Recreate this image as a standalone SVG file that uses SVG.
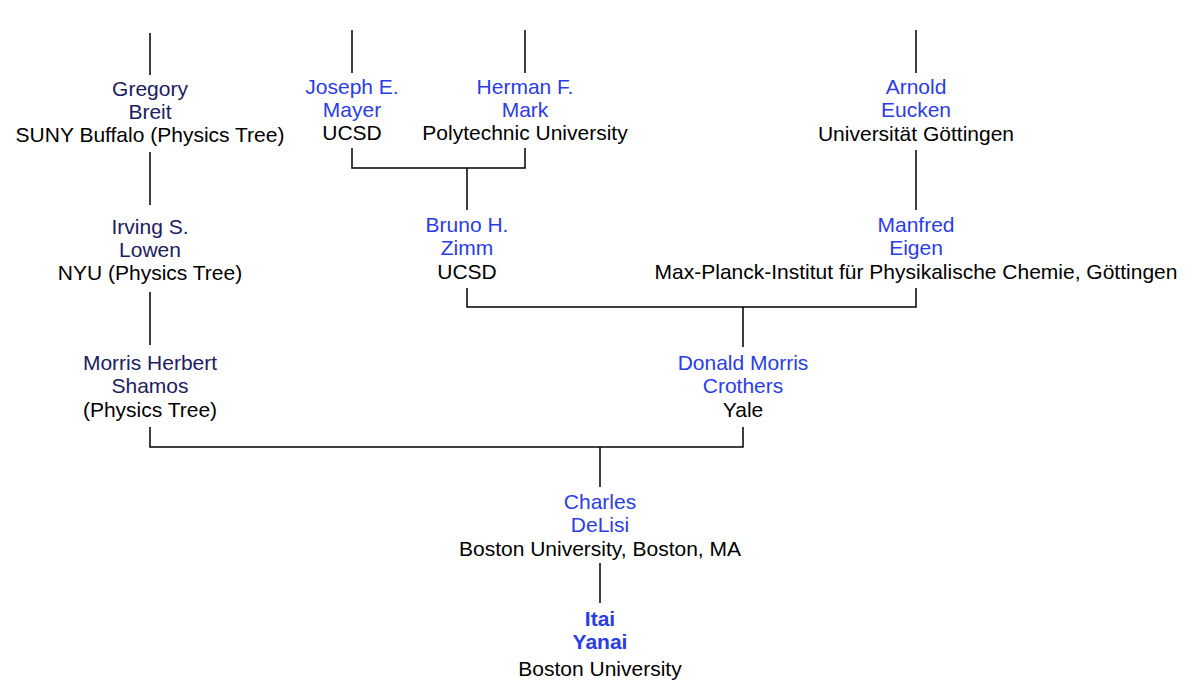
<svg xmlns="http://www.w3.org/2000/svg" width="1200" height="686" viewBox="0 0 1200 686">
<style>
text{font-family:"Liberation Sans",Arial,sans-serif;font-size:21px;text-anchor:middle}
.n{fill:#1c2060}
.b{fill:#2b3de6}
.a{fill:#000}
.y{font-weight:bold}
.c{stroke:#000;stroke-width:1.5;fill:none}
</style>
<rect width="1200" height="686" fill="#fff"/>
<g id="connectors" class="c">
<path d="M150 33V75M150 152V205M150 292V345"/>
<path d="M352 30V73M525 30V73M352 148V168H525V148M467 168V210"/>
<path d="M916 30V73M916 150V210"/>
<path d="M467 288V307H916V288M743 307V347"/>
<path d="M150 427V447H743V427M600 447V487"/>
<path d="M600 563V603"/>
</g>
<g id="breit"><text x="150" y="96" class="n">Gregory</text><text x="150" y="119" class="n">Breit</text><text x="150" y="142" class="a">SUNY Buffalo (Physics Tree)</text></g>
<g id="lowen"><text x="150" y="234" class="n">Irving S.</text><text x="150" y="257" class="n">Lowen</text><text x="150" y="280" class="a">NYU (Physics Tree)</text></g>
<g id="shamos"><text x="150" y="370" class="n">Morris Herbert</text><text x="150" y="393" class="n">Shamos</text><text x="150" y="417" class="a">(Physics Tree)</text></g>
<g id="mayer"><text x="352" y="94" class="b">Joseph E.</text><text x="352" y="117" class="b">Mayer</text><text x="352" y="140" class="a">UCSD</text></g>
<g id="mark"><text x="525" y="94" class="b">Herman F.</text><text x="525" y="117" class="b">Mark</text><text x="525" y="140" class="a">Polytechnic University</text></g>
<g id="eucken"><text x="916" y="94" class="b">Arnold</text><text x="916" y="117" class="b">Eucken</text><text x="916" y="141" class="a">Universität Göttingen</text></g>
<g id="zimm"><text x="467" y="232" class="b">Bruno H.</text><text x="467" y="255" class="b">Zimm</text><text x="467" y="279" class="a">UCSD</text></g>
<g id="eigen"><text x="916" y="232" class="b">Manfred</text><text x="916" y="255" class="b">Eigen</text><text x="916" y="279" class="a">Max-Planck-Institut für Physikalische Chemie, Göttingen</text></g>
<g id="crothers"><text x="743" y="370" class="b">Donald Morris</text><text x="743" y="393" class="b">Crothers</text><text x="743" y="417" class="a">Yale</text></g>
<g id="delisi"><text x="600" y="509" class="b">Charles</text><text x="600" y="532" class="b">DeLisi</text><text x="600" y="556" class="a">Boston University, Boston, MA</text></g>
<g id="yanai"><text x="600" y="626" class="b y">Itai</text><text x="600" y="649" class="b y">Yanai</text><text x="600" y="676" class="a">Boston University</text></g>
</svg>
